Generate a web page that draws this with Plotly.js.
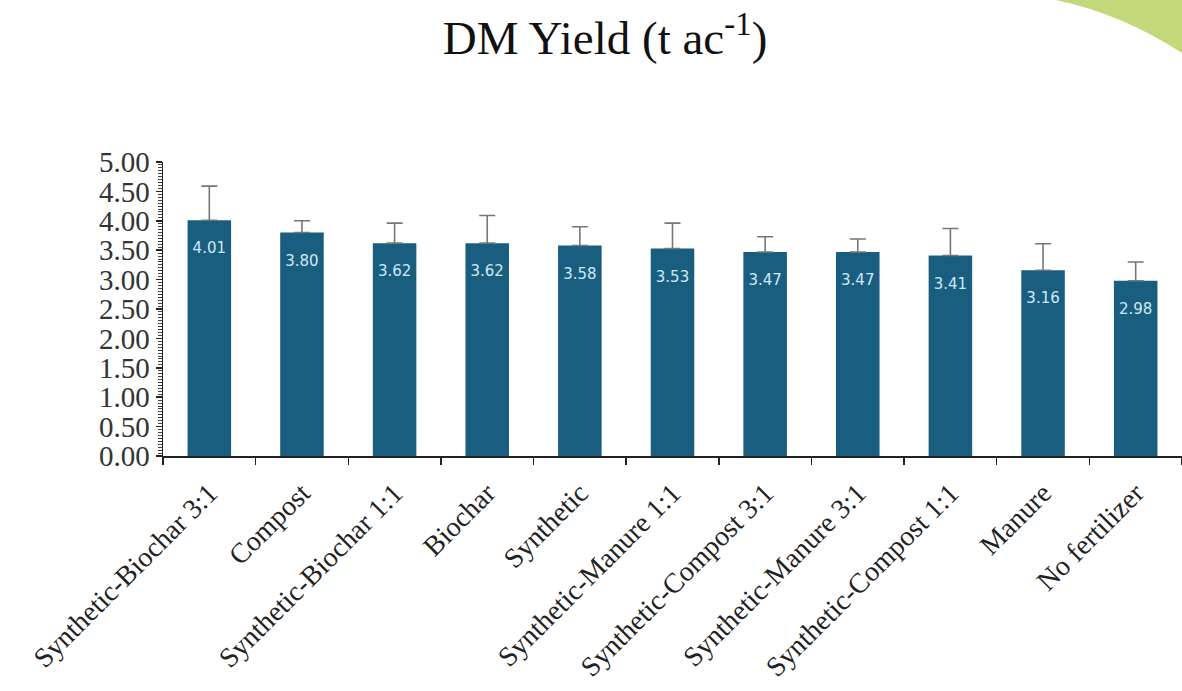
<!DOCTYPE html>
<html>
<head>
<meta charset="utf-8">
<script src="https://cdn.plot.ly/plotly-3.0.1.min.js"></script>
<style>html,body{margin:0;padding:0;background:#fff;}#chart{width:1182px;height:691px;}</style>
</head>
<body>
<div id="chart"></div>
<script>
const categories = ["Synthetic-Biochar 3:1","Compost","Synthetic-Biochar 1:1","Biochar","Synthetic","Synthetic-Manure 1:1","Synthetic-Compost 3:1","Synthetic-Manure 3:1","Synthetic-Compost 1:1","Manure","No fertilizer"];
const yieldValues = [4.01,3.80,3.62,3.62,3.58,3.53,3.47,3.47,3.41,3.16,2.98];
const errorValues = [0.58,0.20,0.34,0.47,0.32,0.43,0.26,0.22,0.46,0.45,0.32];
const valueLabels = ["4.01","3.80","3.62","3.62","3.58","3.53","3.47","3.47","3.41","3.16","2.98"];

const W = 1182, H = 691;
const mL = 163, mR = 0, mT = 162, mB = 235;
const pw = W - mL - mR, ph = H - mT - mB;
function px(x){ return ((x - mL)/pw).toFixed(4); }
function py(y){ return ((H - mB - y)/ph).toFixed(4); }

const bars = {
  type: 'bar',
  x: categories,
  y: yieldValues,
  width: 0.47,
  marker: {color: '#1a5e7f', line: {width: 0}},
  error_y: {type: 'data', array: errorValues, symmetric: false, arrayminus: errorValues.map(()=>0), color: '#777777', thickness: 1.6, width: 8},
  hoverinfo: 'x+y',
  showlegend: false
};
const labels = {
  type: 'scatter',
  mode: 'text',
  x: categories,
  y: yieldValues.map(v => v - 0.5),
  text: valueLabels,
  textfont: {family: 'DejaVu Sans', size: 15, color: '#cde9f7'},
  hoverinfo: 'skip',
  showlegend: false,
  cliponaxis: false
};

const greenPath = 'M ' + px(1056) + ' ' + py(0) + ' Q ' + px(1122) + ' ' + py(14) + ' ' + px(1182) + ' ' + py(53) + ' L ' + px(1182) + ' ' + py(0) + ' Z';

const layout = {
  width: W, height: H,
  margin: {l: mL, r: mR, t: mT, b: mB, pad: 0},
  paper_bgcolor: '#ffffff',
  plot_bgcolor: '#ffffff',
  title: {
    text: 'DM Yield (t ac<sup>-1</sup>)',
    font: {family: 'Liberation Serif', size: 47, color: '#111111'},
    xref: 'container', x: 605/W, xanchor: 'center',
    yref: 'container', y: 1 - 38/H, yanchor: 'middle'
  },
  xaxis: {
    type: 'category',
    range: [-0.5, 10.5],
    showline: true, linecolor: '#222222', linewidth: 1.5,
    ticks: 'outside', tickson: 'boundaries', ticklen: 7, tickcolor: '#222222', tickwidth: 1.5,
    tickangle: -45,
    ticklabelstandoff: 8,
    tickfont: {family: 'Liberation Serif', size: 28, color: '#222222'},
    showgrid: false, zeroline: false, fixedrange: true
  },
  yaxis: {
    range: [0, 5],
    dtick: 0.5, tick0: 0,
    tickformat: '.2f',
    showline: true, linecolor: '#222222', linewidth: 1.5,
    ticks: 'outside', ticklen: 6, tickcolor: '#222222', tickwidth: 1.5,
    minor: {dtick: 0.05, ticks: 'outside', ticklen: 4, tickcolor: '#444444', tickwidth: 1, showgrid: false},
    tickfont: {family: 'Liberation Serif', size: 29, color: '#333333'},
    showgrid: false, zeroline: false, fixedrange: true
  },
  shapes: [{
    type: 'path', xref: 'paper', yref: 'paper',
    path: greenPath,
    fillcolor: '#c2d87a', line: {width: 0}, layer: 'above'
  }],
  bargap: 0.53
};

Plotly.newPlot('chart', [bars, labels], layout, {displayModeBar: false, staticPlot: true});
</script>
</body>
</html>
